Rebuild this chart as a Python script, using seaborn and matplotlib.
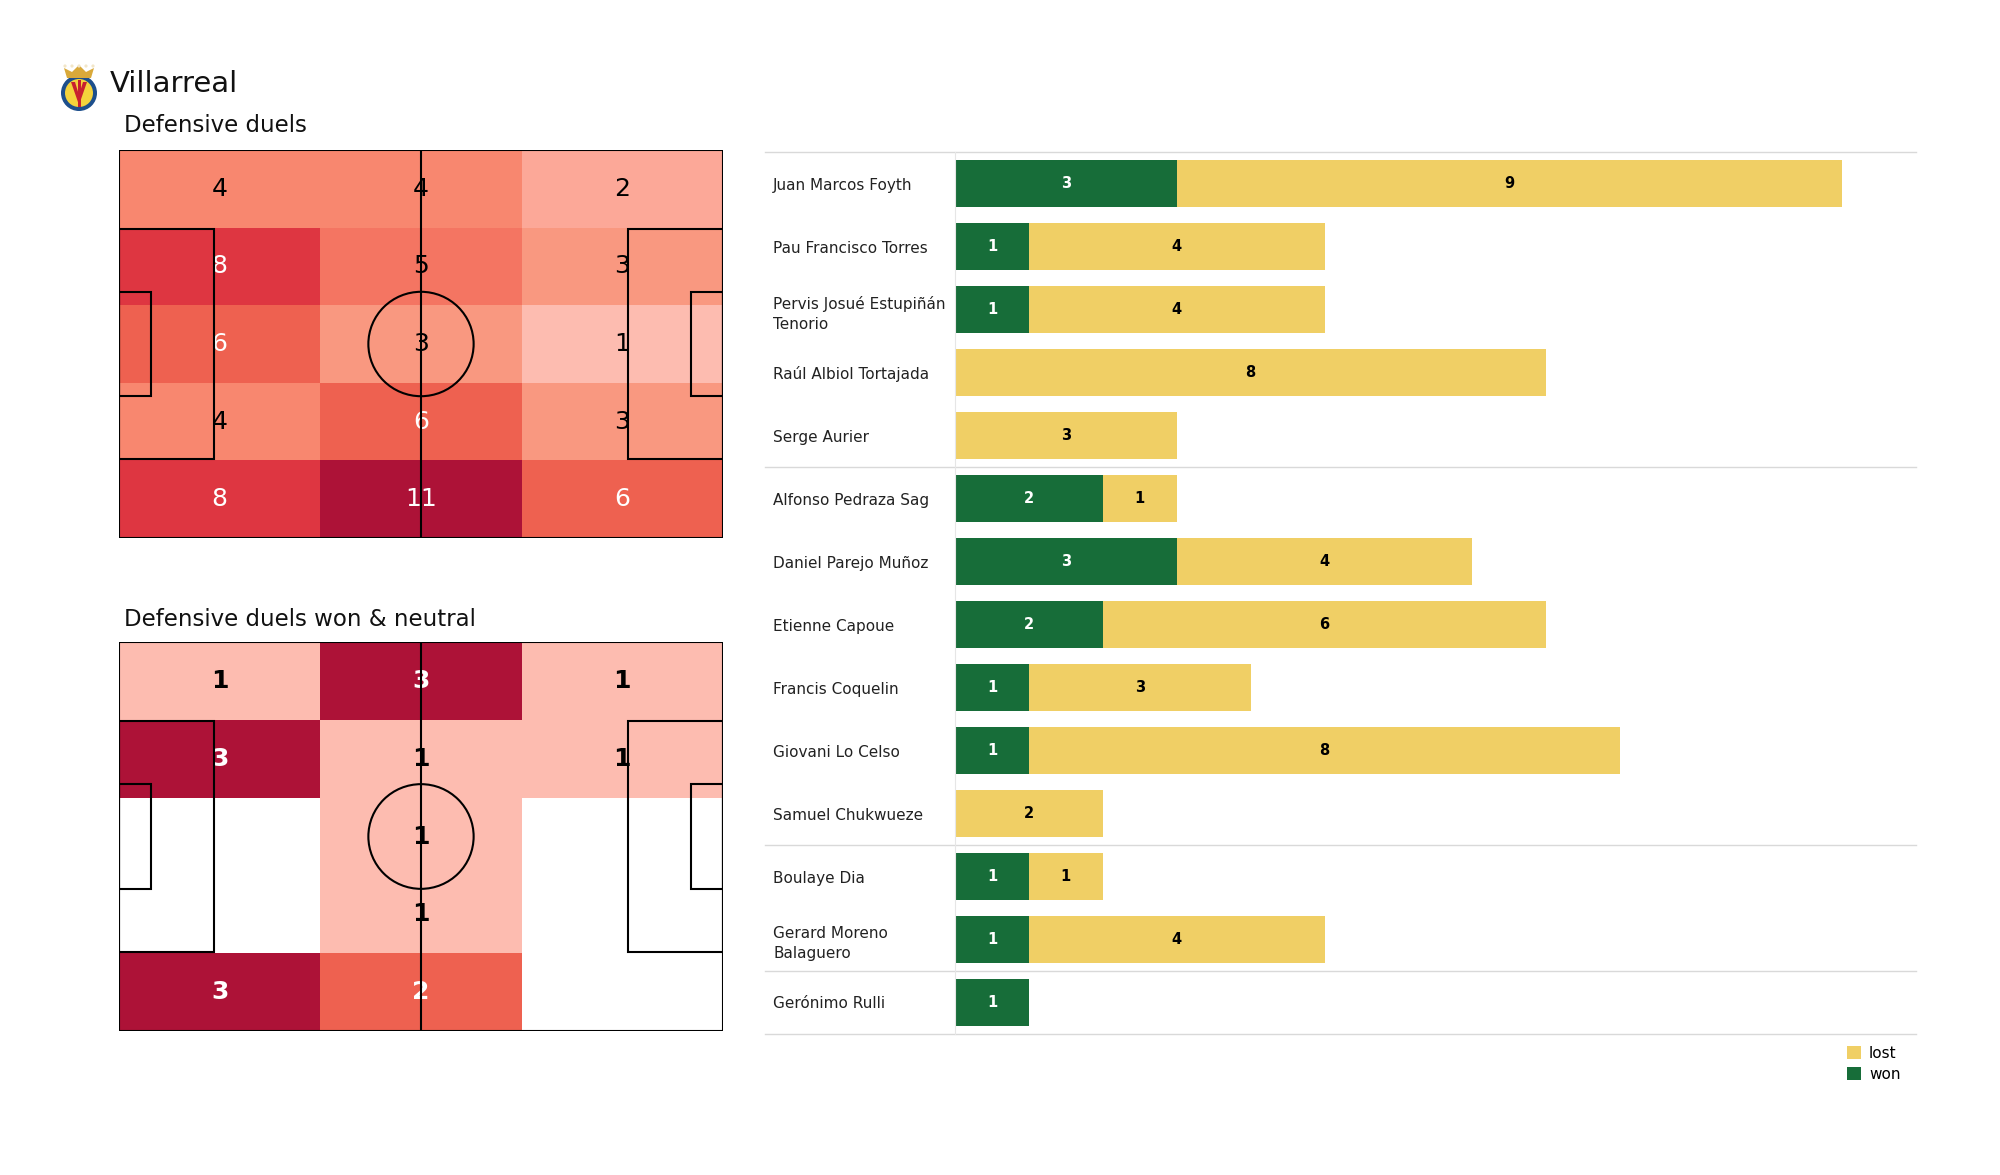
"""Villarreal - defensive duels: pitch heatmaps + won/lost bars per player"""

import numpy as np
import matplotlib
matplotlib.use("Agg")
import matplotlib.pyplot as plt
import seaborn as sns
from matplotlib.colors import LinearSegmentedColormap
from matplotlib.patches import Rectangle, Circle, Polygon, Patch

# --- data ---------------------------------------------------------------
team = "Villarreal"

# zones 5 rows (top -> bottom) x 3 columns (left -> right)
duels_all = np.array([[4, 4, 2],
                      [8, 5, 3],
                      [6, 3, 1],
                      [4, 6, 3],
                      [8, 11, 6]])
duels_won = np.array([[1, 3, 1],
                      [3, 1, 1],
                      [0, 1, 0],
                      [0, 1, 0],
                      [3, 2, 0]])

players = ["Juan Marcos Foyth", "Pau Francisco Torres",
           "Pervis Josué Estupiñán\nTenorio", "Raúl Albiol Tortajada",
           "Serge Aurier", "Alfonso Pedraza Sag", "Daniel Parejo Muñoz",
           "Etienne Capoue", "Francis Coquelin", "Giovani Lo Celso",
           "Samuel Chukwueze", "Boulaye Dia", "Gerard Moreno\nBalaguero",
           "Gerónimo Rulli"]
won = [3, 1, 1, 0, 0, 2, 3, 2, 1, 1, 0, 1, 1, 1]
lost = [9, 4, 4, 8, 3, 1, 4, 6, 3, 8, 2, 1, 4, 0]
group_sizes = [5, 6, 2, 1]  # defenders, midfielders, forwards, keeper

GREEN = "#176d39"
YELLOW = "#f0cf65"

cmap = LinearSegmentedColormap.from_list(
    "duels",
    [(0.0, "#fdbcb0"), (0.1, "#fca898"), (0.2, "#f99880"), (0.3, "#f8876f"),
     (0.4, "#f47562"), (0.5, "#ee6150"), (0.7, "#de3641"), (1.0, "#ad1237")])

fig = plt.figure(figsize=(20, 11.75), dpi=100)


def px_axes(x0, y0, x1, y1):
    # axes from pixel box (top-left origin)
    W, H = 2000, 1175
    return fig.add_axes([x0 / W, 1 - y1 / H, (x1 - x0) / W, (y1 - y0) / H])


def draw_pitch(box, data, bold):
    ax = px_axes(*box)
    vmin = data[data > 0].min()
    vmax = data.max()
    sns.heatmap(data, ax=ax, cmap=cmap, mask=(data == 0), vmin=vmin, vmax=vmax,
                annot=True, fmt="d", cbar=False, xticklabels=False, yticklabels=False,
                annot_kws={"size": 18, "weight": "bold" if bold else "normal"})
    for t in ax.texts:
        v = int(t.get_text())
        t.set_color("white" if (v - vmin) / (vmax - vmin) >= 0.5 else "black")

    # pitch lines on top (105 x 68)
    lx = fig.add_axes(ax.get_position())
    lx.set_xlim(0, 105)
    lx.set_ylim(0, 68)
    lx.axis("off")
    lx.patch.set_alpha(0)
    kw = dict(fill=False, ec="black", lw=1.5, zorder=5)
    lx.add_patch(Rectangle((0, 0), 105, 68, **kw))
    lx.plot([52.5, 52.5], [0, 68], color="black", lw=1.5, zorder=5)
    lx.add_patch(Circle((52.5, 34), 9.15, **kw))
    lx.add_patch(Rectangle((0, 34 - 20.16), 16.5, 40.32, **kw))
    lx.add_patch(Rectangle((105 - 16.5, 34 - 20.16), 16.5, 40.32, **kw))
    lx.add_patch(Rectangle((0, 34 - 9.16), 5.5, 18.32, **kw))
    lx.add_patch(Rectangle((105 - 5.5, 34 - 9.16), 5.5, 18.32, **kw))


draw_pitch((119, 150, 723, 538), duels_all, bold=False)
draw_pitch((119, 642, 723, 1031), duels_won, bold=True)

fig.text(110 / 2000, 1 - 84 / 1175, team, fontsize=21, va="center", color="#111111")
fig.text(124 / 2000, 1 - 125 / 1175, "Defensive duels", fontsize=16.5, va="center",
         color="#111111")
fig.text(124 / 2000, 1 - 620 / 1175, "Defensive duels won & neutral", fontsize=16.5,
         va="center", color="#111111")

# --- crest (rough sketch) -----------------------------------------------
lg = px_axes(58, 60, 100, 112)
lg.set_xlim(0, 42)
lg.set_ylim(0, 52)
lg.set_aspect("equal")
lg.axis("off")
lg.add_patch(Circle((21, 19), 18, fc="#1d4f8c", ec="none"))
lg.add_patch(Circle((21, 19), 14, fc="#f4d23c", ec="none"))
lg.add_patch(Polygon([(13, 30), (21, 7), (29, 30), (25, 30), (21, 17), (17, 30)],
                     fc="#c8202f", ec="none"))
lg.add_patch(Rectangle((19.5, 5), 3, 27, fc="#c8202f", ec="none"))
lg.add_patch(Polygon([(9, 34), (33, 34), (36, 44), (28, 40), (21, 47), (14, 40), (6, 44)],
                     fc="#d9a93a", ec="none"))
for cx in (7, 14, 21, 28, 35):
    lg.add_patch(Circle((cx, 46), 1.6, fc="#f2e6c8", ec="none"))

# --- bars ---------------------------------------------------------------
ax = px_axes(955, 152, 1916, 1034)
total = [w + l for w, l in zip(won, lost)]
sns.barplot(x=total, y=players, orient="h", color=YELLOW, saturation=1,
            width=0.75, ax=ax)
sns.barplot(x=won, y=players, orient="h", color=GREEN, saturation=1,
            width=0.75, ax=ax)

for i, (w, l) in enumerate(zip(won, lost)):
    if w > 0:
        ax.text(w / 2, i, str(w), ha="center", va="center", color="white",
                fontsize=10.5, weight="bold")
    if l > 0:
        ax.text(w + l / 2, i, str(l), ha="center", va="center", color="black",
                fontsize=10.5, weight="bold")

ax.set_xlim(0, 13)
ax.set_ylim(len(players) - 0.5, -0.5)
ax.set_xlabel("")
ax.set_ylabel("")
ax.set_xticks([])
ax.set_yticks(range(len(players)))
ax.set_yticklabels(players, ha="left", fontsize=11, color="#222222", linespacing=1.45)
ax.tick_params(axis="y", length=0, pad=131)
for s in ("top", "right", "bottom"):
    ax.spines[s].set_visible(False)
ax.spines["left"].set_color("#e6e6e6")
ax.spines["left"].set_linewidth(0.8)

bounds = np.concatenate([[-0.5], np.cumsum(group_sizes) - 0.5])
for b in bounds:
    ax.plot([-0.198, 1], [b, b], transform=ax.get_yaxis_transform(),
            color="#d9d9d9", lw=1.0, clip_on=False)

handles = [Patch(fc=YELLOW, label="lost"), Patch(fc=GREEN, label="won")]
fig.legend(handles=handles, loc="upper left",
           bbox_to_anchor=(1833 / 2000, 1 - 1032 / 1175), frameon=False,
           fontsize=11, handlelength=0.95, handleheight=0.95, handletextpad=0.5,
           labelspacing=0.4)

fig.savefig("out.png", dpi=100)
